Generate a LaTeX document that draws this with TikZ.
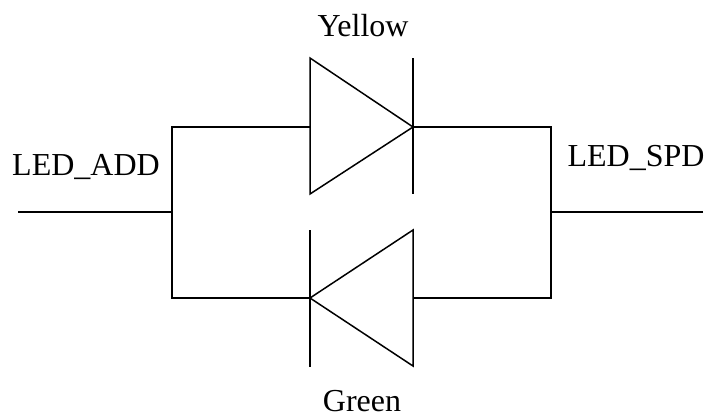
\documentclass[tikz,border=0pt]{standalone}
\usepackage{fontspec}
\setmainfont{Liberation Serif}
\usepackage{tikz}

\begin{document}
\begin{tikzpicture}[x=1pt,y=-1pt,
    wire/.style = {draw, line width=1.5pt},
    main/.style = {font=\fontsize{32}{32}\selectfont, inner sep=0pt}]
                \useasboundingbox (0, 0) rectangle (704, 418);

                \node[main] at (363, 26) (Yellow) {Yellow};
                \node[main] at (86, 167) (ADD) {LED\_ADD};
                \node[main] at (636, 158) (SPD) {LED\_SPD};
                \node[main] at (362, 401.5) (Green) {Green};

                \coordinate (L) at (18, 212);
                \coordinate (LJ) at (172, 212);
                \coordinate (LT) at (172, 127);
                \coordinate (LB) at (172, 298);
                \coordinate (R) at (703, 212);
                \coordinate (RJ) at (551, 212);
                \coordinate (RT) at (551, 127);
                \coordinate (RB) at (551, 298);

                \coordinate (YA) at (310, 127);
                \coordinate (YA1) at (310, 58);
                \coordinate (YA2) at (310, 194);
                \coordinate (YK) at (413, 127);
                \coordinate (YK1) at (413, 58);
                \coordinate (YK2) at (413, 194);

                \coordinate (GA) at (413, 298);
                \coordinate (GA1) at (413, 230);
                \coordinate (GA2) at (413, 366);
                \coordinate (GK) at (310, 298);
                \coordinate (GK1) at (310, 230);
                \coordinate (GK2) at (310, 367);

                \draw [wire] (L) -- (LJ);
                \draw [wire] (R) -- (RJ);
                \draw [wire] (YA) -- (LT) -- (LB) -- (GK);
                \draw [wire] (YK) -- (RT) -- (RB) -- (GA);

                \draw [wire] (YA1) -- (YA2) -- (YK) -- cycle;
                \draw [wire] (YK1) -- (YK2);
                \draw [wire] (GA1) -- (GA2) -- (GK) -- cycle;
                \draw [wire] (GK1) -- (GK2);
                \end{tikzpicture}
\end{document}
